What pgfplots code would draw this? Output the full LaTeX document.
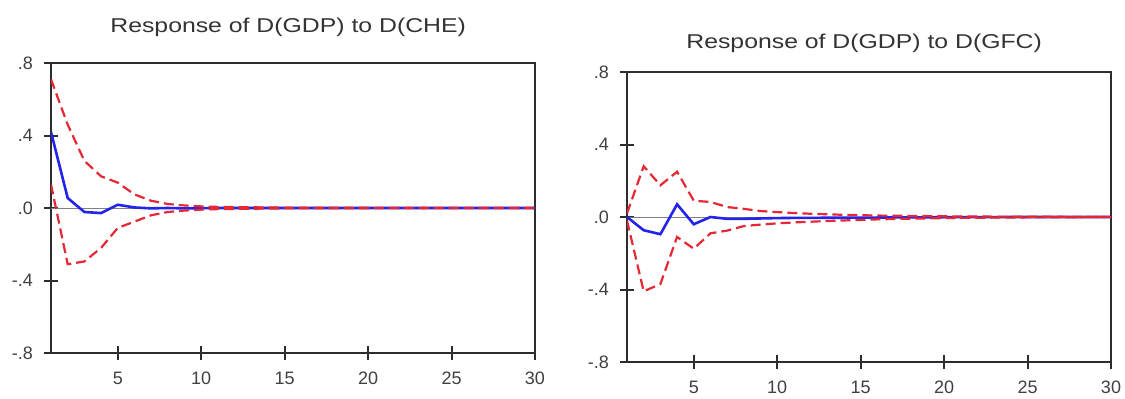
\documentclass[border=0pt]{standalone}
\usepackage{pgfplots}
\pgfplotsset{compat=1.18}
\usepackage{fontspec}
\setmainfont{Liberation Sans}
\definecolor{irfred}{RGB}{228,40,52}
\definecolor{irfblue}{RGB}{35,35,235}
\definecolor{axframe}{RGB}{45,45,45}

\pgfplotstableread{
x mid up lo
1 0.42 0.71 0.13
2 0.055 0.46 -0.31
3 -0.022 0.26 -0.295
4 -0.028 0.175 -0.22
5 0.018 0.14 -0.11
6 0.003 0.075 -0.075
7 -0.002 0.04 -0.04
8 0.0 0.022 -0.022
9 -0.002 0.014 -0.014
10 -0.001 0.009 -0.009
11 0.0 0.006 -0.006
12 0.0 0.005 -0.005
13 0.0 0.004 -0.004
14 0.0 0.003 -0.003
15 0.0 0.002 -0.002
16 0.0 0.002 -0.002
17 0.0 0.001 -0.001
18 0.0 0.001 -0.001
19 0.0 0.001 -0.001
20 0.0 0.001 -0.001
21 0.0 0.0 0.0
22 0.0 0.0 0.0
23 0.0 0.0 0.0
24 0.0 0.0 0.0
25 0.0 0.0 0.0
26 0.0 0.0 0.0
27 0.0 0.0 0.0
28 0.0 0.0 0.0
29 0.0 0.0 0.0
30 0.0 0.0 0.0
}\che

\pgfplotstableread{
x mid up lo
1 0.0 0.02 -0.02
2 -0.073 0.28 -0.41
3 -0.095 0.175 -0.37
4 0.07 0.25 -0.11
5 -0.04 0.09 -0.175
6 0.0 0.083 -0.09
7 -0.01 0.055 -0.075
8 -0.01 0.045 -0.05
9 -0.008 0.033 -0.042
10 -0.006 0.027 -0.035
11 -0.005 0.022 -0.030
12 -0.005 0.018 -0.026
13 -0.004 0.015 -0.022
14 -0.004 0.012 -0.019
15 -0.003 0.010 -0.016
16 -0.003 0.008 -0.013
17 -0.002 0.007 -0.011
18 -0.002 0.006 -0.009
19 -0.002 0.005 -0.008
20 -0.001 0.004 -0.006
21 -0.001 0.003 -0.005
22 -0.001 0.003 -0.004
23 -0.001 0.002 -0.003
24 0.0 0.002 -0.003
25 0.0 0.001 -0.002
26 0.0 0.001 -0.002
27 0.0 0.001 -0.001
28 0.0 0.0 -0.001
29 0.0 0.0 0.0
30 0.0 0.0 0.0
}\gfc

\pgfplotsset{
  irf/.style={
    scale only axis,
    width=242pt, height=145pt,
    xmin=1, xmax=30, ymin=-0.8, ymax=0.8,
    xtick={5,10,15,20,25,30},
    ytick={-0.8,-0.4,0,0.4,0.8},
    yticklabels={-.8,-.4,.0,.4,.8},
    xmajorticks=true, ymajorticks=true,
    xtick pos=left, ytick pos=left,
    tick align=center,
    major tick length=7pt,
    axis line style={draw=axframe, line width=1.4pt},
    every tick/.append style={draw=axframe, line width=1pt},
    tick label style={font=\fontsize{9}{10}\selectfont, text=black!75},
    xticklabel style={yshift=-2.5pt},
    yticklabel style={xshift=-2pt},
    title style={font=\fontsize{10}{12}\selectfont, text=black!80},
    /pgf/number format/assume math mode=true,
  },
  up/.style={irfred, line width=1.1pt, dash pattern=on 5pt off 2.5pt},
  mid/.style={irfblue, line width=1.3pt},
}

\begin{document}
\begin{tikzpicture}
\useasboundingbox (0,0) rectangle (562.5pt,199pt);
\begin{axis}[irf, at={(25.5pt,22.5pt)}, anchor=south west,
  title={\scalebox{1.24}[1]{Response of D(GDP) to D(CHE)}},
  title style={at={(0.49,1)}, anchor=center, yshift=12pt}]
  \addplot[gray, line width=0.4pt] coordinates {(1,0) (30,0)};
  \addplot[mid] table[x=x, y=mid] {\che};
  \addplot[up] table[x=x, y=up] {\che};
  \addplot[up] table[x=x, y=lo] {\che};
\end{axis}
\begin{axis}[irf, at={(313.5pt,18pt)}, anchor=south west,
  title={\scalebox{1.24}[1]{Response of D(GDP) to D(GFC)}},
  title style={at={(0.49,1)}, anchor=center, yshift=8.5pt}]
  \addplot[gray, line width=0.4pt] coordinates {(1,0) (30,0)};
  \addplot[mid] table[x=x, y=mid] {\gfc};
  \addplot[up] table[x=x, y=up] {\gfc};
  \addplot[up] table[x=x, y=lo] {\gfc};
\end{axis}
\end{tikzpicture}
\end{document}
